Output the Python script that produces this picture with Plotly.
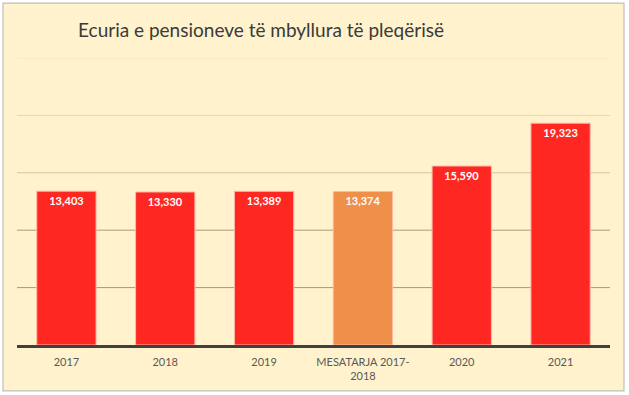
import plotly.graph_objects as go

categories = ["2017", "2018", "2019", "MESATARJA 2017-<br>2018", "2020", "2021"]
values = [13403, 13330, 13389, 13374, 15590, 19323]
bar_colors = ["#FF2722", "#FF2722", "#FF2722", "#EF8F4A", "#FF2722", "#FF2722"]
grid_values = [5000, 10000, 15000, 20000, 25000]
grid_colors = ["#A89878", "#AC9C7C", "#D3C5A6", "#E2D7BB", "#ECE2C8"]
title_text = "Ecuria e pensioneve të mbyllura të pleqërisë"

fig = go.Figure()
fig.add_trace(go.Bar(
    x=categories, y=values,
    marker=dict(color=bar_colors, line=dict(color="#FFB9A8", width=1)),
    texttemplate="<b>%{y:,}</b>", textposition="inside", insidetextanchor="end",
    textfont=dict(color="white", size=11, family="Lato"),
    cliponaxis=False, width=0.6,
))

shapes = [dict(type="rect", xref="paper", yref="paper",
               x0=-0.0236, x1=1.0236, y0=-0.16, y1=1.1913,
               fillcolor="#FFF2CC", line=dict(color="#BFBFBF", width=1.2), layer="below")]
for gv, gc in zip(grid_values, grid_colors):
    shapes.append(dict(type="line", xref="paper", yref="y", x0=0, x1=1, y0=gv, y1=gv,
                       line=dict(color=gc, width=1), layer="below"))
fig.update_layout(shapes=shapes)

fig.update_layout(
    width=629, height=395,
    margin=dict(l=16.5, r=18.5, t=57.5, b=50),
    paper_bgcolor="white", plot_bgcolor="rgba(0,0,0,0)",
    showlegend=False,
    title=dict(text=title_text, x=0.415, xanchor="center", y=0.922, yanchor="middle",
               font=dict(family="Lato", size=19, color="#3A3A3A")),
    font=dict(family="Lato", color="#595959", size=11),
    bargap=0.4,
)
fig.update_xaxes(showline=True, linecolor="#404040", linewidth=2.5, showgrid=False,
                 ticks="outside", ticklen=5, tickcolor="rgba(0,0,0,0)",
                 tickfont=dict(size=11, color="#595959"), fixedrange=True)
fig.update_yaxes(range=[0, 25000], showgrid=False, showticklabels=False, zeroline=False,
                 fixedrange=True)

fig.write_html("out.html", config={"displayModeBar": False},
               post_script="document.body.style.margin='0';")
